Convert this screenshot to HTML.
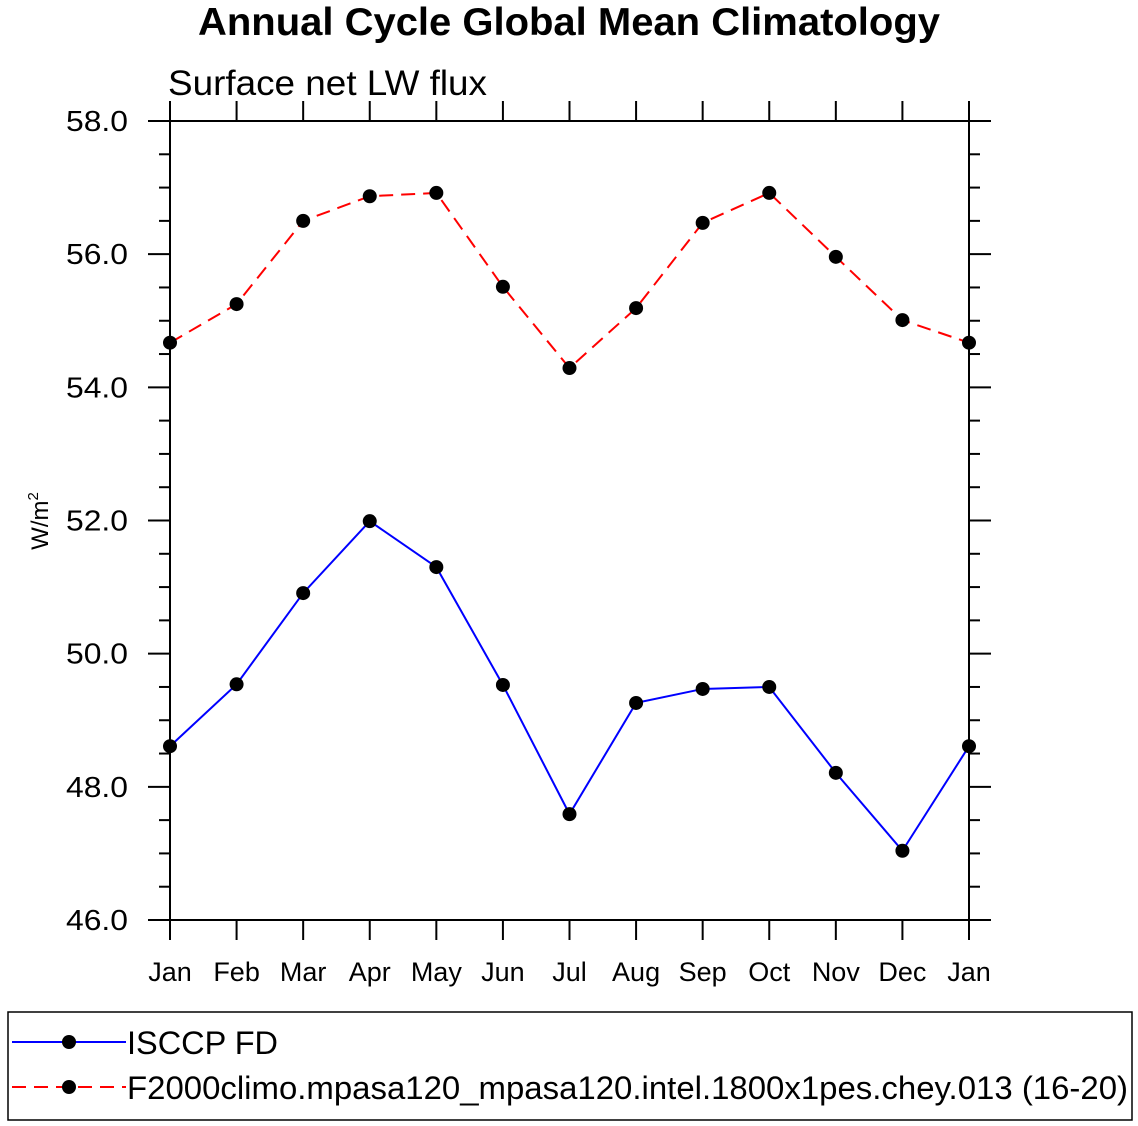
<!DOCTYPE html>
<html><head><meta charset="utf-8"><style>body{margin:0;background:#fff}svg{display:block;font-family:"Liberation Sans",sans-serif}</style></head>
<body>
<svg id="c" width="1138" height="1126">
<text x="569" y="35" text-anchor="middle" font-size="39" font-weight="bold" textLength="742" lengthAdjust="spacingAndGlyphs">Annual Cycle Global Mean Climatology</text>
<text x="168" y="95" font-size="35" textLength="319" lengthAdjust="spacingAndGlyphs">Surface net LW flux</text>
<text transform="translate(48,521) rotate(-90)" text-anchor="middle" font-size="24">W/m<tspan dy="-10" font-size="15">2</tspan></text>
<g id="axes"></g><g id="series"></g>
<rect x="8" y="1012" width="1124" height="108" fill="none" stroke="#000" stroke-width="1.5"/>
<g>
<line x1="12" y1="1042" x2="126" y2="1042" stroke="#00f" stroke-width="2"/><circle cx="69" cy="1042" r="7"/>
<text x="127" y="1054" font-size="32" textLength="151" lengthAdjust="spacingAndGlyphs">ISCCP FD</text></g>
<g>
<line x1="12" y1="1087" x2="126" y2="1087" stroke="#f00" stroke-width="2" stroke-dasharray="14,8"/><circle cx="69" cy="1087" r="7"/>
<text x="127" y="1099" font-size="32" textLength="1001" lengthAdjust="spacingAndGlyphs">F2000climo.mpasa120_mpasa120.intel.1800x1pes.chey.013 (16-20)</text></g>
</svg>
<script>
const months=["Jan","Feb","Mar","Apr","May","Jun","Jul","Aug","Sep","Oct","Nov","Dec","Jan"];
const yTicks=[46,48,50,52,54,56,58];
const isccp=[48.61,49.54,50.91,51.99,51.30,49.53,47.59,49.26,49.47,49.50,48.21,47.04,48.61];
const model=[54.67,55.25,56.50,56.87,56.92,55.51,54.29,55.19,56.47,56.92,55.96,55.01,54.67];
const L=170,R=969,T=121,B=920,ymin=46,ymax=58;
const xs=i=>L+(R-L)*i/12, ys=v=>B-(v-ymin)/(ymax-ymin)*(B-T);
const NS="http://www.w3.org/2000/svg";
function mk(p,t,a){const e=document.createElementNS(NS,t);for(const k in a)e.setAttribute(k,a[k]);p.appendChild(e);return e;}
const ax=document.getElementById('axes');
const fr=mk(ax,'rect',{x:L,y:T,width:R-L,height:B-T,fill:'none',stroke:'#000','stroke-width':2});


for(let v=ymin;v<=ymax+1e-9;v+=0.5){const y=ys(v),maj=Math.abs(v%2)<1e-9,len=maj?22:11;
 mk(ax,'line',{x1:L-len,y1:y,x2:L,y2:y,stroke:'#000','stroke-width':2});
 mk(ax,'line',{x1:R,y1:y,x2:R+len,y2:y,stroke:'#000','stroke-width':2});}
yTicks.forEach(v=>{const t=mk(ax,'text',{x:128,y:ys(v)+10,'text-anchor':'end','font-size':29,textLength:62,lengthAdjust:'spacingAndGlyphs'});t.textContent=v.toFixed(1);

});
months.forEach((m,i)=>{const x=xs(i);
 mk(ax,'line',{x1:x,y1:B,x2:x,y2:B+20,stroke:'#000','stroke-width':2});
 mk(ax,'line',{x1:x,y1:T-20,x2:x,y2:T,stroke:'#000','stroke-width':2});
 const t=mk(ax,'text',{x:x,y:981,'text-anchor':'middle','font-size':27});t.textContent=m;
 
 });
const sg=document.getElementById('series');
function draw(d,col,dash,name){const pl=mk(sg,'polyline',{points:d.map((v,i)=>xs(i)+','+ys(v)).join(' '),fill:'none',stroke:col,'stroke-width':2,'stroke-dasharray':dash});
 
 
 d.forEach((v,i)=>{const c=mk(sg,'circle',{cx:xs(i),cy:ys(v),r:7});
 
 });}
draw(isccp,'#00f','none','isccp');
draw(model,'#f00','14,8','model');
</script>
</body></html>
